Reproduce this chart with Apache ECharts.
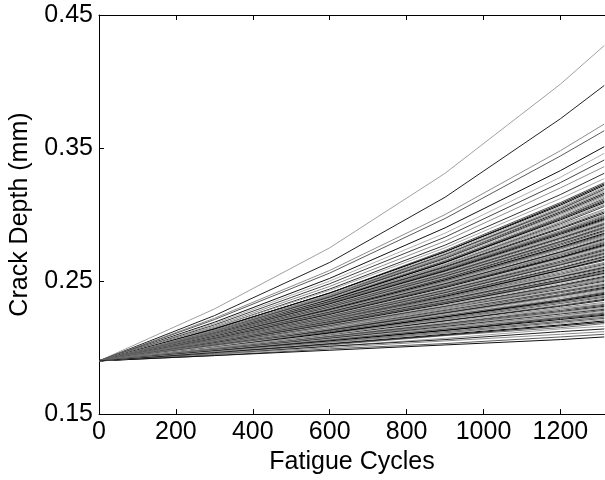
<!DOCTYPE html>
<html>
<head>
<meta charset="utf-8">
<script src="https://cdn.jsdelivr.net/npm/echarts@6/dist/echarts.min.js"></script>
<style>
html,body{margin:0;padding:0;background:#fff;}
#chart{width:605px;height:480px;}
</style>
</head>
<body>
<div id="chart"></div>
<script>
// Cycle positions where each crack-depth curve was read
const cycles = [0, 300, 600, 900, 1200, 1314];
const xTickValues = [0, 200, 400, 600, 800, 1000, 1200];
const yTickValues = [0.15, 0.25, 0.35, 0.45];

// Fastest growing curves (sparse upper fan)
const upperCurves = [
  [0.19, 0.229, 0.275, 0.331, 0.398, 0.427],
  [0.19, 0.224, 0.264, 0.313, 0.372, 0.397],
  [0.19, 0.222, 0.258, 0.300, 0.348, 0.368],
  [0.19, 0.221, 0.256, 0.297, 0.344, 0.363],
  [0.19, 0.219, 0.252, 0.290, 0.333, 0.351],
  [0.19, 0.218, 0.250, 0.286, 0.328, 0.346],
  [0.19, 0.217, 0.248, 0.283, 0.324, 0.341],
  [0.19, 0.216, 0.246, 0.280, 0.320, 0.336],
  [0.19, 0.215, 0.244, 0.277, 0.315, 0.331],
  [0.19, 0.215, 0.243, 0.275, 0.312, 0.327]
];

// Dense central band
const middleCurves = [
  [0.19, 0.214, 0.241, 0.273, 0.309, 0.324],
  [0.19, 0.214, 0.241, 0.272, 0.307, 0.322],
  [0.19, 0.213, 0.240, 0.270, 0.305, 0.320],
  [0.19, 0.213, 0.239, 0.269, 0.304, 0.318],
  [0.19, 0.213, 0.238, 0.268, 0.302, 0.316],
  [0.19, 0.212, 0.238, 0.267, 0.300, 0.314],
  [0.19, 0.212, 0.237, 0.265, 0.298, 0.312],
  [0.19, 0.211, 0.236, 0.264, 0.297, 0.310],
  [0.19, 0.211, 0.235, 0.263, 0.295, 0.308],
  [0.19, 0.211, 0.235, 0.262, 0.293, 0.306],
  [0.19, 0.212, 0.236, 0.262, 0.292, 0.304],
  [0.19, 0.211, 0.235, 0.261, 0.290, 0.302],
  [0.19, 0.211, 0.234, 0.260, 0.288, 0.300],
  [0.19, 0.211, 0.234, 0.259, 0.287, 0.2985],
  [0.19, 0.210, 0.233, 0.258, 0.286, 0.297],
  [0.19, 0.210, 0.232, 0.257, 0.284, 0.2955],
  [0.19, 0.210, 0.232, 0.256, 0.283, 0.294],
  [0.19, 0.210, 0.231, 0.255, 0.282, 0.2925],
  [0.19, 0.209, 0.231, 0.254, 0.280, 0.291],
  [0.19, 0.209, 0.230, 0.253, 0.279, 0.2895],
  [0.19, 0.209, 0.229, 0.252, 0.278, 0.288],
  [0.19, 0.208, 0.229, 0.251, 0.276, 0.2865],
  [0.19, 0.208, 0.228, 0.250, 0.275, 0.285],
  [0.19, 0.208, 0.228, 0.249, 0.274, 0.2835],
  [0.19, 0.208, 0.227, 0.248, 0.272, 0.282],
  [0.19, 0.207, 0.226, 0.248, 0.271, 0.2805],
  [0.19, 0.207, 0.226, 0.247, 0.270, 0.279],
  [0.19, 0.207, 0.225, 0.246, 0.268, 0.2775],
  [0.19, 0.206, 0.225, 0.245, 0.267, 0.276],
  [0.19, 0.206, 0.224, 0.244, 0.266, 0.2745],
  [0.19, 0.206, 0.223, 0.243, 0.264, 0.273],
  [0.19, 0.206, 0.223, 0.242, 0.263, 0.2715],
  [0.19, 0.205, 0.222, 0.241, 0.262, 0.270],
  [0.19, 0.205, 0.222, 0.240, 0.260, 0.2685],
  [0.19, 0.205, 0.221, 0.239, 0.259, 0.267],
  [0.19, 0.204, 0.220, 0.238, 0.258, 0.2655],
  [0.19, 0.205, 0.221, 0.238, 0.257, 0.264],
  [0.19, 0.205, 0.220, 0.237, 0.255, 0.2625],
  [0.19, 0.204, 0.220, 0.236, 0.254, 0.261],
  [0.19, 0.204, 0.219, 0.235, 0.253, 0.2595],
  [0.19, 0.204, 0.219, 0.234, 0.251, 0.258],
  [0.19, 0.204, 0.218, 0.233, 0.250, 0.2565],
  [0.19, 0.203, 0.217, 0.232, 0.249, 0.255],
  [0.19, 0.203, 0.217, 0.231, 0.247, 0.2535],
  [0.19, 0.203, 0.216, 0.230, 0.246, 0.252],
  [0.19, 0.202, 0.215, 0.229, 0.245, 0.2505]
];

// Further curves of the dense band, lying between the ones above
const middleCurvesB = [
  [0.19, 0.214, 0.241, 0.272, 0.308, 0.323],
  [0.19, 0.213, 0.240, 0.271, 0.306, 0.321],
  [0.19, 0.213, 0.239, 0.270, 0.304, 0.319],
  [0.19, 0.213, 0.239, 0.268, 0.303, 0.317],
  [0.19, 0.212, 0.238, 0.267, 0.301, 0.315],
  [0.19, 0.212, 0.237, 0.266, 0.299, 0.313],
  [0.19, 0.212, 0.236, 0.265, 0.297, 0.311],
  [0.19, 0.211, 0.236, 0.264, 0.296, 0.309],
  [0.19, 0.211, 0.235, 0.262, 0.294, 0.307],
  [0.19, 0.2115, 0.2354, 0.2618, 0.2911, 0.303],
  [0.19, 0.2111, 0.2346, 0.2605, 0.2893, 0.301],
  [0.19, 0.2108, 0.2339, 0.2594, 0.2878, 0.2993],
  [0.19, 0.2105, 0.2333, 0.2585, 0.2864, 0.2978],
  [0.19, 0.2102, 0.2327, 0.2575, 0.2851, 0.2963],
  [0.19, 0.2100, 0.2321, 0.2566, 0.2837, 0.2948],
  [0.19, 0.2097, 0.2315, 0.2556, 0.2824, 0.2933],
  [0.19, 0.2094, 0.2309, 0.2547, 0.2811, 0.2918],
  [0.19, 0.2091, 0.2303, 0.2537, 0.2797, 0.2903],
  [0.19, 0.2088, 0.2297, 0.2528, 0.2784, 0.2888],
  [0.19, 0.2085, 0.2291, 0.2518, 0.2770, 0.2873],
  [0.19, 0.2082, 0.2285, 0.2509, 0.2757, 0.2858],
  [0.19, 0.2080, 0.2279, 0.2499, 0.2744, 0.2843],
  [0.19, 0.2077, 0.2273, 0.2489, 0.2730, 0.2828],
  [0.19, 0.2074, 0.2266, 0.2480, 0.2717, 0.2813],
  [0.19, 0.2071, 0.2260, 0.2470, 0.2703, 0.2798],
  [0.19, 0.2068, 0.2254, 0.2461, 0.2690, 0.2783],
  [0.19, 0.2065, 0.2248, 0.2451, 0.2676, 0.2768],
  [0.19, 0.2062, 0.2242, 0.2442, 0.2663, 0.2753],
  [0.19, 0.2060, 0.2236, 0.2432, 0.2650, 0.2738],
  [0.19, 0.2057, 0.2230, 0.2423, 0.2636, 0.2723],
  [0.19, 0.2054, 0.2224, 0.2413, 0.2623, 0.2708],
  [0.19, 0.2051, 0.2218, 0.2404, 0.2609, 0.2693],
  [0.19, 0.2048, 0.2212, 0.2394, 0.2596, 0.2678],
  [0.19, 0.2045, 0.2206, 0.2385, 0.2583, 0.2663],
  [0.19, 0.2049, 0.2208, 0.2378, 0.2560, 0.2633],
  [0.19, 0.2045, 0.2201, 0.2368, 0.2547, 0.2618],
  [0.19, 0.2042, 0.2195, 0.2358, 0.2533, 0.2603],
  [0.19, 0.2039, 0.2189, 0.2349, 0.2520, 0.2588],
  [0.19, 0.2036, 0.2182, 0.2339, 0.2506, 0.2573],
  [0.19, 0.2033, 0.2176, 0.2329, 0.2493, 0.2558],
  [0.19, 0.2030, 0.2170, 0.2319, 0.2479, 0.2543],
  [0.19, 0.2027, 0.2164, 0.2309, 0.2466, 0.2528],
  [0.19, 0.2024, 0.2157, 0.2300, 0.2452, 0.2513],
  [0.19, 0.2021, 0.2151, 0.2290, 0.2439, 0.2498],
  [0.19, 0.2018, 0.2145, 0.2280, 0.2425, 0.2483],
  [0.19, 0.2015, 0.2138, 0.2270, 0.2412, 0.2468],
  [0.19, 0.2012, 0.2132, 0.2261, 0.2398, 0.2453],
  [0.19, 0.2009, 0.2126, 0.2251, 0.2385, 0.2438],
  [0.19, 0.2006, 0.2119, 0.2241, 0.2371, 0.2423],
  [0.19, 0.2003, 0.2113, 0.2231, 0.2358, 0.2408],
  [0.19, 0.2000, 0.2107, 0.2221, 0.2344, 0.2393],
  [0.19, 0.1997, 0.2101, 0.2212, 0.2331, 0.2378],
  [0.19, 0.1994, 0.2094, 0.2202, 0.2317, 0.2363]
];

// Slowest growing curves (lower band)
const lowerCurves = [
  [0.19, 0.202, 0.215, 0.229, 0.243, 0.249],
  [0.19, 0.202, 0.214, 0.228, 0.242, 0.2475],
  [0.19, 0.201, 0.214, 0.227, 0.240, 0.246],
  [0.19, 0.201, 0.213, 0.226, 0.239, 0.2445],
  [0.19, 0.201, 0.212, 0.225, 0.238, 0.243],
  [0.19, 0.200, 0.212, 0.224, 0.236, 0.2415],
  [0.19, 0.200, 0.211, 0.223, 0.235, 0.240],
  [0.19, 0.200, 0.210, 0.222, 0.234, 0.2385],
  [0.19, 0.200, 0.210, 0.221, 0.232, 0.237],
  [0.19, 0.199, 0.209, 0.220, 0.231, 0.2355],
  [0.19, 0.199, 0.209, 0.219, 0.230, 0.234],
  [0.19, 0.199, 0.209, 0.218, 0.229, 0.2325],
  [0.19, 0.199, 0.208, 0.217, 0.227, 0.231],
  [0.19, 0.198, 0.207, 0.216, 0.226, 0.2295],
  [0.19, 0.198, 0.207, 0.215, 0.224, 0.228],
  [0.19, 0.198, 0.206, 0.214, 0.223, 0.2265],
  [0.19, 0.198, 0.205, 0.213, 0.222, 0.225],
  [0.19, 0.197, 0.205, 0.212, 0.220, 0.2235],
  [0.19, 0.197, 0.204, 0.211, 0.219, 0.222],
  [0.19, 0.196, 0.203, 0.210, 0.217, 0.220],
  [0.19, 0.196, 0.202, 0.209, 0.215, 0.218],
  [0.19, 0.196, 0.201, 0.207, 0.214, 0.216],
  [0.19, 0.195, 0.201, 0.206, 0.212, 0.214],
  [0.19, 0.195, 0.200, 0.205, 0.210, 0.212],
  [0.19, 0.194, 0.199, 0.203, 0.208, 0.210],
  [0.19, 0.194, 0.198, 0.202, 0.206, 0.208]
];

// Further slow curves lying between the ones above
const lowerCurvesB = [
  [0.19, 0.1993, 0.2090, 0.2190, 0.2293, 0.2333],
  [0.19, 0.1990, 0.2083, 0.2179, 0.2279, 0.2318],
  [0.19, 0.1987, 0.2077, 0.2169, 0.2266, 0.2303],
  [0.19, 0.1984, 0.2070, 0.2159, 0.2252, 0.2288],
  [0.19, 0.1980, 0.2063, 0.2149, 0.2238, 0.2273],
  [0.19, 0.1977, 0.2057, 0.2139, 0.2225, 0.2258],
  [0.19, 0.1974, 0.2050, 0.2129, 0.2211, 0.2243],
  [0.19, 0.1971, 0.2044, 0.2119, 0.2198, 0.2228],
  [0.19, 0.1967, 0.2036, 0.2107, 0.2181, 0.2210],
  [0.19, 0.1962, 0.2027, 0.2094, 0.2163, 0.2190]
];

const grayPalette = ['#a0a0a0', '#222222', '#8c8c8c', '#5a5a5a', '#111111', '#b0b0b0',
  '#444444', '#909090', '#333333', '#a8a8a8', '#555555', '#000000', '#707070'];

const allCurves = upperCurves.concat(middleCurves, middleCurvesB, lowerCurves, lowerCurvesB);
const series = allCurves.map((curve, i) => ({
  type: 'line',
  xAxisIndex: 0,
  yAxisIndex: 0,
  showSymbol: false,
  symbol: 'none',
  silent: true,
  lineStyle: { width: 1, color: grayPalette[i % grayPalette.length] },
  data: cycles.map((c, j) => [c, curve[j]])
}));

const font = 'Liberation Sans';
const chart = echarts.init(document.getElementById('chart'), null, { renderer: 'canvas' });
chart.setOption({
  animation: false,
  backgroundColor: '#fff',
  grid: { left: 95, right: 0, top: 15, bottom: 62, containLabel: false },
  xAxis: [{
    type: 'value', position: 'bottom', min: 0, max: 1316,
    name: 'Fatigue Cycles', nameLocation: 'middle', nameGap: 30,
    nameTextStyle: { fontFamily: font, fontSize: 25, color: '#000' },
    axisLine: { show: true, onZero: false, lineStyle: { color: '#000', width: 1 } },
    axisTick: { show: true, inside: true, length: 5, customValues: xTickValues, lineStyle: { color: '#000' } },
    axisLabel: { show: true, customValues: xTickValues, margin: 6, fontFamily: font, fontSize: 25, color: '#000',
      formatter: v => String(v) },
    splitLine: { show: false }
  }, {
    type: 'value', position: 'top', min: 0, max: 1316,
    axisLine: { show: true, onZero: false, lineStyle: { color: '#000', width: 1 } },
    axisTick: { show: true, inside: true, length: 5, customValues: xTickValues, lineStyle: { color: '#000' } },
    axisLabel: { show: false },
    splitLine: { show: false }
  }],
  yAxis: [{
    type: 'value', min: 0.15, max: 0.45,
    name: 'Crack Depth (mm)', nameLocation: 'middle', nameGap: 66,
    nameTextStyle: { fontFamily: font, fontSize: 25, color: '#000' },
    axisLine: { show: true, onZero: false, lineStyle: { color: '#000', width: 1 } },
    axisTick: { show: true, inside: true, length: 5, customValues: yTickValues, lineStyle: { color: '#000' } },
    axisLabel: { show: true, customValues: yTickValues, margin: 6, fontFamily: font, fontSize: 25, color: '#000',
      padding: [5, 0, 0, 0], formatter: v => v.toFixed(2) },
    splitLine: { show: false }
  }],
  series: series
});
</script>
</body>
</html>
